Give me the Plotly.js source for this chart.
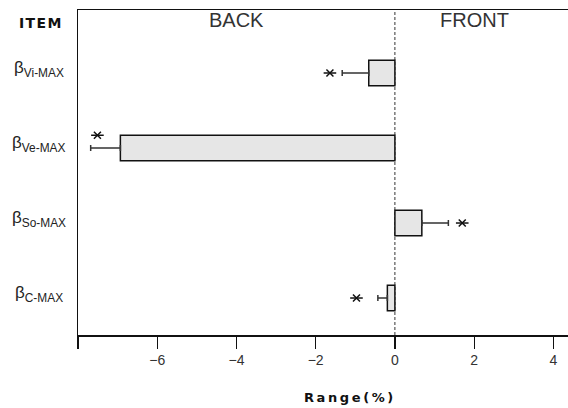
<!DOCTYPE html>
<html>
<head>
<meta charset="utf-8">
<script src="https://cdn.plot.ly/plotly-3.0.1.min.js"></script>
<style>html,body{margin:0;padding:0;background:#fff;}#chart{width:568px;height:408px;}</style>
</head>
<body>
<div id="chart"></div>
<script>
// ---- data ----
const items = ["β<sub>Vi-MAX</sub>", "β<sub>Ve-MAX</sub>", "β<sub>So-MAX</sub>", "β<sub>C-MAX</sub>"];
const itemPos = [4, 3, 2, 1];
const rangeVals = [-0.66, -6.93, 0.68, -0.19];
const rangeErr = [0.67, 0.75, 0.67, 0.24];
const starX = [-1.64, -7.51, 1.70, -0.97];
const starY = [4, 3.17, 2, 1];
const xTickVals = [-8, -6, -4, -2, 0, 2, 4];
const xTickText = [" ", "−6", "−4", "−2", "0", "2", "4"];
const sideLabels = ["BACK", "FRONT"];
const sideLabelX = [-4, 2];

const errPlus = rangeVals.map((v, i) => v > 0 ? rangeErr[i] : 0);
const errMinus = rangeVals.map((v, i) => v < 0 ? rangeErr[i] : 0);

const bars = {
  type: 'bar', orientation: 'h',
  x: rangeVals, y: itemPos, width: 0.34,
  marker: {color: '#e6e6e6', line: {color: '#111', width: 1.5}},
  error_x: {type: 'data', symmetric: false, array: errPlus, arrayminus: errMinus,
            color: '#333', thickness: 1.5, width: 3},
  hoverinfo: 'skip', showlegend: false
};
const starA = {
  type: 'scatter', mode: 'markers', x: starX, y: starY,
  marker: {symbol: 'x-thin-open', size: 7, color: '#111', line: {color: '#111', width: 1.5}},
  hoverinfo: 'skip', showlegend: false
};
const starB = {
  type: 'scatter', mode: 'markers', x: starX, y: starY,
  marker: {symbol: 'line-ew-open', size: 9, color: '#111', line: {color: '#111', width: 1.5}},
  hoverinfo: 'skip', showlegend: false
};

const annotations = [];
items.forEach((t, i) => annotations.push({
  text: t, xref: 'paper', x: -0.0806, yref: 'y', y: itemPos[i] + 0.06,
  xanchor: 'center', yanchor: 'middle', showarrow: false,
  font: {family: 'Liberation Sans, Arial, sans-serif', size: 17, color: '#222'}
}));
sideLabels.forEach((t, i) => annotations.push({
  text: t, xref: 'x', x: sideLabelX[i], yref: 'paper', y: 0.9677,
  xanchor: 'center', yanchor: 'middle', showarrow: false,
  font: {family: 'Liberation Sans, Arial, sans-serif', size: 20, color: '#333'}
}));
annotations.push({
  text: 'I\u200aT\u200aE\u200aM', xref: 'paper', x: -0.0776, yref: 'paper', y: 0.9615,
  xanchor: 'center', yanchor: 'middle', showarrow: false,
  font: {family: 'DejaVu Sans, sans-serif', size: 14, color: '#111', weight: 'bold'}
});
annotations.push({
  text: 'R\u2009a\u2009n\u2009g\u2009e\u2009(\u2009%\u2009)', xref: 'paper', x: 0.5525, yref: 'paper', y: -0.192,
  xanchor: 'center', yanchor: 'middle', showarrow: false,
  font: {family: 'DejaVu Sans, sans-serif', size: 13, color: '#111', weight: 'bold'}
});

const layout = {
  width: 568, height: 408,
  margin: {l: 78, r: 0, t: 10, b: 73},
  paper_bgcolor: '#fff', plot_bgcolor: '#fff',
  xaxis: {
    range: [-8, 4.37], tickvals: xTickVals, ticktext: xTickText,
    ticks: 'outside', ticklen: 12, tickwidth: 1.2, tickcolor: '#111',
    showline: true, linecolor: '#111', linewidth: 1.5, mirror: true,
    showgrid: false, zeroline: false,
    tickfont: {family: 'Liberation Sans, Arial, sans-serif', size: 14, color: '#333'}
  },
  yaxis: {
    range: [0.507, 4.84], showticklabels: false, ticks: '',
    showline: true, linecolor: '#111', linewidth: 1.5, mirror: false,
    showgrid: false, zeroline: false
  },
  shapes: [{type: 'line', xref: 'x', x0: 0, x1: 0, yref: 'paper', y0: 0, y1: 1,
            line: {color: '#333', width: 1, dash: '3px,2px'}, layer: 'below'}],
  annotations: annotations
};

Plotly.newPlot('chart', [bars, starA, starB], layout, {staticPlot: true, displayModeBar: false});
</script>
</body>
</html>
